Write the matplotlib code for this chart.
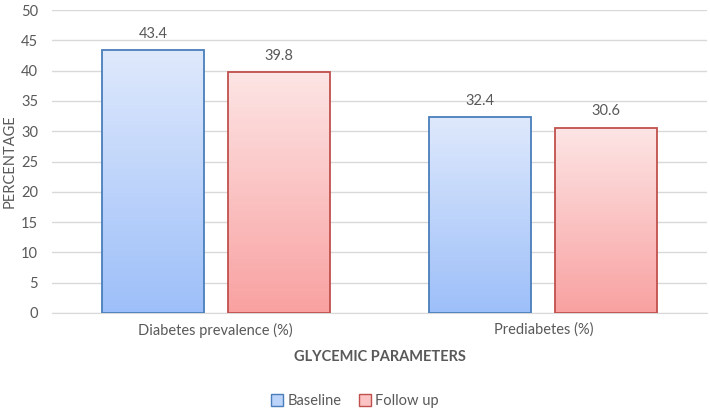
import matplotlib.pyplot as plt
import numpy as np
from matplotlib.colors import LinearSegmentedColormap
from matplotlib.patches import Patch

categories = ['Diabetes prevalence (%)', 'Prediabetes (%)']
baseline = [43.4, 32.4]
follow_up = [39.8, 30.6]

plt.rcParams['font.family'] = ['Lato', 'DejaVu Sans']
txt = '#595959'

fig = plt.figure(figsize=(7.1, 4.12), dpi=100)
ax = fig.add_axes([52 / 710, 1 - 313 / 412, 655 / 710, 303 / 412])

x = np.arange(len(categories))
w = 0.311
off = 0.192

series = [
    (baseline, -off, '#dfe9fc', '#9dbff9', '#4a7ebb', 'Baseline'),
    (follow_up, off, '#fde5e5', '#f9a1a1', '#c0504d', 'Follow up'),
]

grad = np.linspace(0, 1, 256).reshape(-1, 1)
for vals, dx, top, bottom, edge, name in series:
    cmap = LinearSegmentedColormap.from_list(name, [bottom, top])
    for xi, v in zip(x, vals):
        left = xi + dx - w / 2
        bar = ax.bar(xi + dx, v, w, color='none', edgecolor=edge, linewidth=1.3, zorder=3)[0]
        im = ax.imshow(grad, cmap=cmap, aspect='auto', origin='lower',
                       extent=[left, left + w, 0, v], zorder=2)
        im.set_clip_path(bar)
        ax.text(xi + dx, v + 1.5, f'{v}', ha='center', va='bottom', fontsize=10.5, color=txt)

ax.set_xlim(-0.5, 1.5)
ax.set_ylim(0, 50)
ax.set_yticks(np.arange(0, 51, 5))
ax.set_xticks(x)
ax.set_xticklabels(categories)
ax.tick_params(axis='both', length=0, labelsize=10.5, colors=txt)
ax.tick_params(axis='y', pad=10)
ax.tick_params(axis='x', pad=7)
ax.grid(axis='y', color='#d9d9d9', linewidth=1, zorder=0)
ax.set_axisbelow(True)
for s in ['top', 'right', 'left']:
    ax.spines[s].set_visible(False)
ax.spines['bottom'].set_color('#d9d9d9')

fig.text(10 / 710, 1 - 161 / 412, 'PERCENTAGE', rotation=90, ha='center', va='center',
         fontsize=10.5, color=txt)
ax.set_xlabel('GLYCEMIC PARAMETERS', fontsize=10.5, color=txt, fontweight='bold', labelpad=9)

handles = [Patch(facecolor='#bcd3fa', edgecolor='#4a7ebb', label='Baseline'),
           Patch(facecolor='#fbc3c3', edgecolor='#c0504d', label='Follow up')]
fig.legend(handles=handles, loc='center', bbox_to_anchor=(355 / 710, 1 - 401 / 412), ncol=2,
           frameon=False, fontsize=10.5, labelcolor=txt, handlelength=0.8, handleheight=0.8,
           handletextpad=0.3, columnspacing=1.2)

fig.savefig('out.png', dpi=100)
